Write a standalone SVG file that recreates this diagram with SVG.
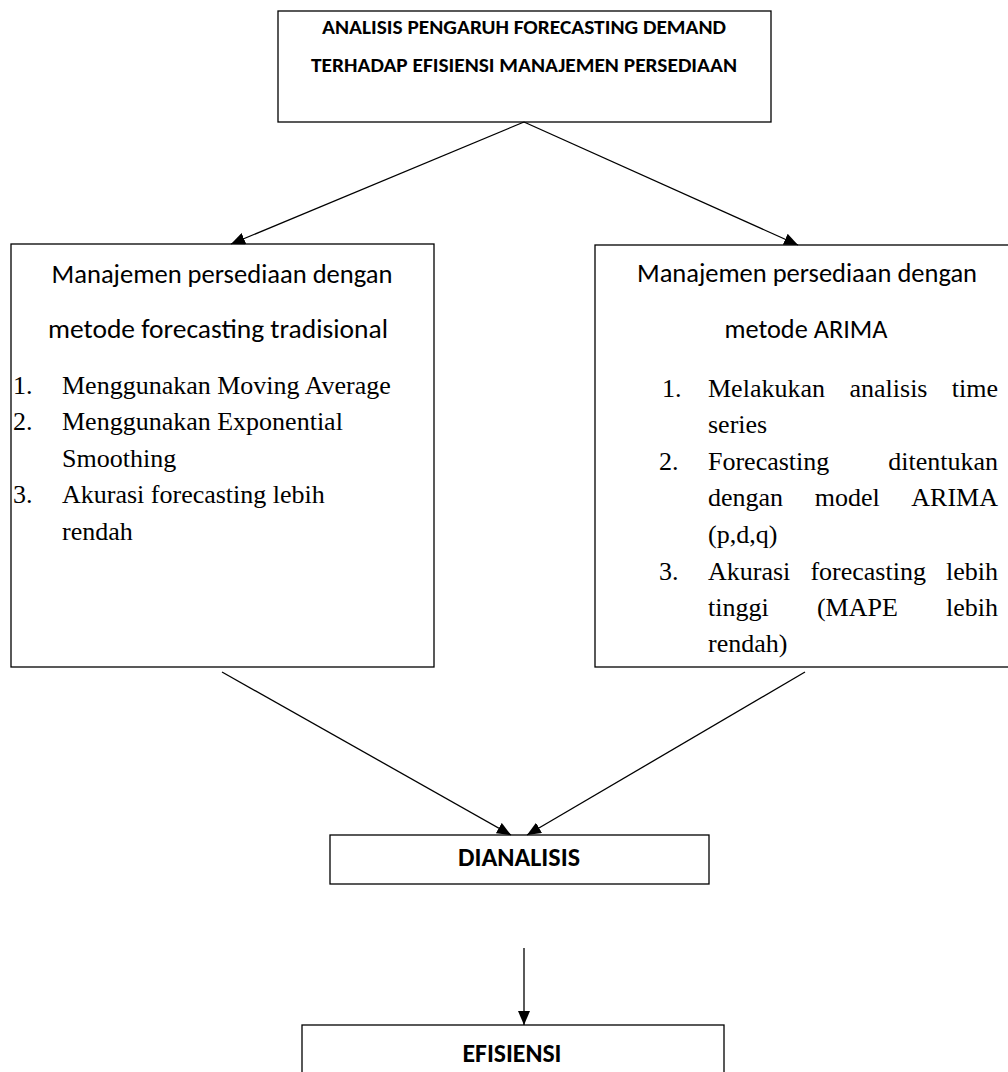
<svg xmlns="http://www.w3.org/2000/svg" width="1008" height="1072" viewBox="0 0 1008 1072">
<style>
.box{fill:#fff;stroke:#000;stroke-width:1.3}
.cal{font-family:Carlito,Calibri,Lato,"Noto Sans",sans-serif;font-size:26px;fill:#000}
.calb{font-family:Carlito,Calibri,Lato,"Noto Sans",sans-serif;font-weight:bold;fill:#000}
.tnr{font-family:"Liberation Serif","Times New Roman",serif;font-size:26px;fill:#000}
.conn{stroke:#000;stroke-width:1.3;fill:none}
</style>
<defs>
<marker id="ah" markerUnits="userSpaceOnUse" markerWidth="14" markerHeight="12" refX="14" refY="6" orient="auto">
<path d="M0,0 L14,6 L0,12 z" fill="#000"/>
</marker>
</defs>
<rect width="1008" height="1072" fill="#fff"/>

<g id="node-title">
<rect class="box" x="278" y="11" width="493" height="111"/>
<text class="calb" font-size="21" x="524" y="34" text-anchor="middle" textLength="404" lengthAdjust="spacingAndGlyphs">ANALISIS PENGARUH FORECASTING DEMAND</text>
<text class="calb" font-size="21" x="524" y="72" text-anchor="middle" textLength="426" lengthAdjust="spacingAndGlyphs">TERHADAP EFISIENSI MANAJEMEN PERSEDIAAN</text>
</g>

<g id="node-tradisional">
<rect class="box" x="11" y="244" width="423" height="423"/>
<text class="cal" x="222" y="283" text-anchor="middle" textLength="341" lengthAdjust="spacingAndGlyphs">Manajemen persediaan dengan</text>
<text class="cal" x="218" y="338" text-anchor="middle" textLength="340" lengthAdjust="spacingAndGlyphs">metode forecasting tradisional</text>
<text class="tnr" x="13" y="394">1.</text>
<text class="tnr" x="62" y="394">Menggunakan Moving Average</text>
<text class="tnr" x="13" y="430">2.</text>
<text class="tnr" x="62" y="430">Menggunakan Exponential</text>
<text class="tnr" x="62" y="467">Smoothing</text>
<text class="tnr" x="13" y="503">3.</text>
<text class="tnr" x="62" y="503">Akurasi forecasting lebih</text>
<text class="tnr" x="62" y="540">rendah</text>
</g>

<g id="node-arima">
<rect class="box" x="595" y="245" width="420" height="422"/>
<text class="cal" x="807" y="282" text-anchor="middle" textLength="340" lengthAdjust="spacingAndGlyphs">Manajemen persediaan dengan</text>
<text class="cal" x="806" y="338" text-anchor="middle" textLength="163" lengthAdjust="spacingAndGlyphs">metode ARIMA</text>
<text class="tnr" x="662" y="397">1.</text>
<text class="tnr" x="708" y="397">Melakukan</text>
<text class="tnr" x="849.5" y="397">analisis</text>
<text class="tnr" x="998" y="397" text-anchor="end">time</text>
<text class="tnr" x="708" y="433">series</text>
<text class="tnr" x="659" y="470">2.</text>
<text class="tnr" x="708" y="470">Forecasting</text>
<text class="tnr" x="998" y="470" text-anchor="end">ditentukan</text>
<text class="tnr" x="708" y="506">dengan</text>
<text class="tnr" x="814.7" y="506">model</text>
<text class="tnr" x="998" y="506" text-anchor="end">ARIMA</text>
<text class="tnr" x="708" y="543">(p,d,q)</text>
<text class="tnr" x="659" y="580">3.</text>
<text class="tnr" x="708" y="580">Akurasi</text>
<text class="tnr" x="810.4" y="580">forecasting</text>
<text class="tnr" x="998" y="580" text-anchor="end">lebih</text>
<text class="tnr" x="708" y="616">tinggi</text>
<text class="tnr" x="816.9" y="616">(MAPE</text>
<text class="tnr" x="998" y="616" text-anchor="end">lebih</text>
<text class="tnr" x="708" y="652">rendah)</text>
</g>

<g id="node-dianalisis">
<rect class="box" x="330" y="835" width="379" height="49"/>
<text class="calb" font-size="26" x="519" y="866" text-anchor="middle" textLength="122" lengthAdjust="spacingAndGlyphs">DIANALISIS</text>
</g>

<g id="node-efisiensi">
<rect class="box" x="302" y="1025" width="422" height="70"/>
<text class="calb" font-size="26" x="512" y="1062" text-anchor="middle" textLength="99" lengthAdjust="spacingAndGlyphs">EFISIENSI</text>
</g>

<g id="connectors">
<line class="conn" x1="524" y1="122" x2="231" y2="244" marker-end="url(#ah)"/>
<line class="conn" x1="524" y1="122" x2="798" y2="245" marker-end="url(#ah)"/>
<line class="conn" x1="222" y1="672" x2="511" y2="835" marker-end="url(#ah)"/>
<line class="conn" x1="805" y1="672" x2="527" y2="835" marker-end="url(#ah)"/>
<line class="conn" x1="524" y1="948" x2="524" y2="1025" marker-end="url(#ah)"/>
</g>
</svg>
